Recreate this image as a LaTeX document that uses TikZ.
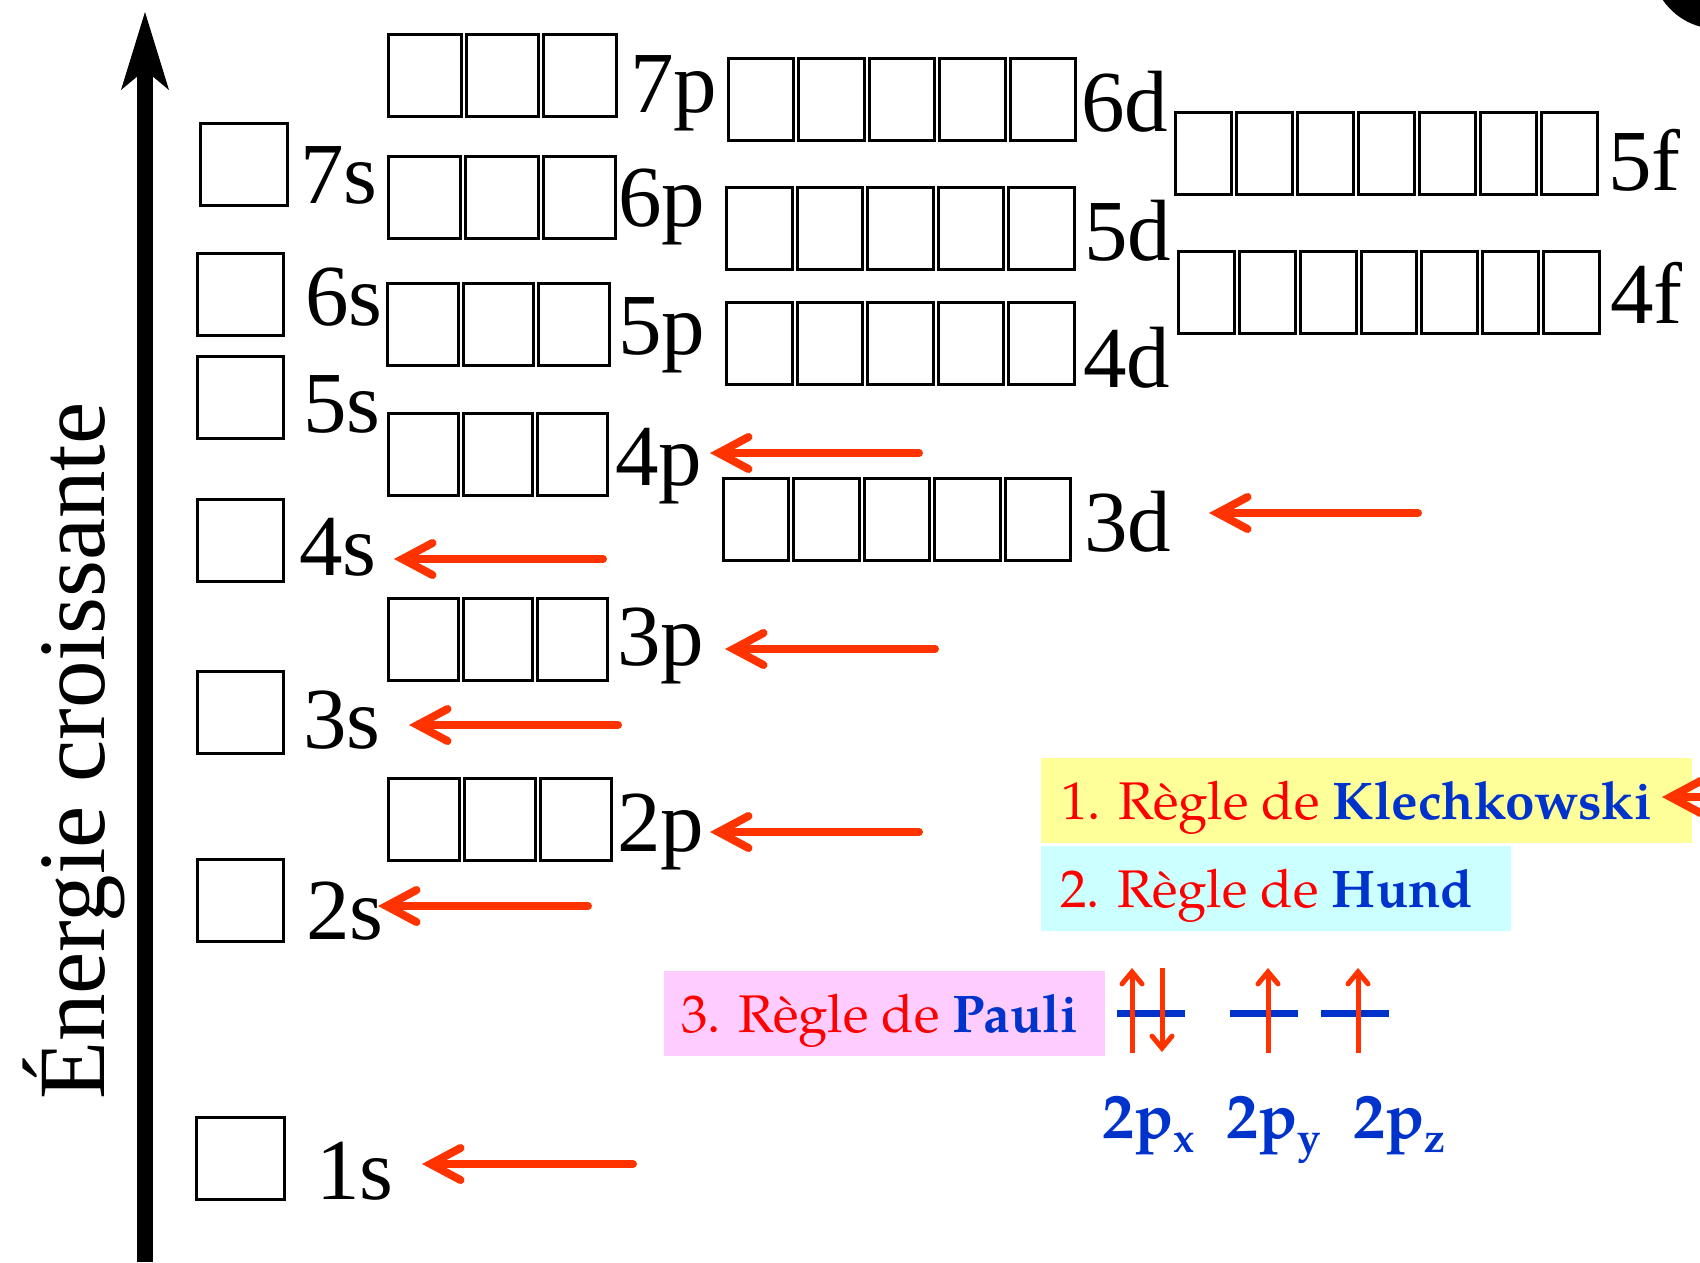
\documentclass[tikz,border=0pt]{standalone}
\usepackage{fontspec}
\setmainfont{Liberation Serif}
\newfontfamily\rulefont{TeX Gyre Pagella}
\usetikzlibrary{arrows.meta}

\definecolor{arrred}{HTML}{FF3300}
\definecolor{textred}{HTML}{FF0000}
\definecolor{textblue}{HTML}{0033CC}
\definecolor{yellowbg}{HTML}{FFFF99}
\definecolor{cyanbg}{HTML}{CCFFFF}
\definecolor{pinkbg}{HTML}{FFCCFF}

% one row of orbital boxes: name, left edge, top edge, number of boxes, total width
\newcommand\orbrow[5]{%
  \pgfmathsetmacro\obw{(#5-2*(#4-1))/#4}%
  \pgfmathsetmacro\obi{\obw-3}%
  \foreach \k in {1,...,#4}{%
    \pgfmathsetmacro\obx{#2+(\k-1)*(\obw+2)+\obw/2}%
    \node[orb, minimum width=\obi pt] (#1-\k) at (\obx,#3+42.5) {};
  }%
}
\newcommand\lowsub[1]{\raisebox{-14pt}{\fontsize{42}{44}\selectfont #1}}

\begin{document}
\begin{tikzpicture}[x=1pt,y=-1pt,
  orb/.style={draw=black, line width=3pt, minimum height=82pt, inner sep=0pt, shape=rectangle},
  lvl/.style={font=\fontsize{87}{92}\selectfont, anchor=base west, inner sep=0pt, text=black},
  fillarr/.style={draw=arrred, line width=8pt, line cap=round,
    -{Straight Barb[length=30pt,width=32pt,line cap=round,line join=miter]}},
  spin/.style={draw=arrred, line width=5pt,
    -{Straight Barb[length=12pt,width=20pt,line cap=round,line join=miter]}},
  bar/.style={fill=textblue, inner sep=0pt, minimum width=68pt, minimum height=7pt, shape=rectangle},
  rulebox/.style={inner sep=0pt, shape=rectangle, anchor=north west, minimum height=85pt},
  ruletext/.style={font=\rulefont\fontsize{53}{60}\selectfont, anchor=base west, inner sep=0pt, text=textred},
  sublabel/.style={font=\rulefont\bfseries\fontsize{64}{70}\selectfont, anchor=base west, inner sep=0pt, text=textblue}
]
\path[use as bounding box] (0,0) rectangle (1700,1262);

% corner mark
\begin{scope}
  \clip (0,0) rectangle (1700,1262);
  \fill[black] (1718,-38) circle[radius=67];
\end{scope}

% energy axis
\coordinate (ebot) at (145,1262);
\coordinate (etop) at (145,12);
\draw[line width=16pt, -{Stealth[length=78pt,width=48pt,inset=20pt,line width=0pt]}] (ebot) -- (etop);
\node[font=\fontsize{95}{100}\selectfont, rotate=90, anchor=base west, inner sep=0pt] (axis) at (104,1100) {Énergie croissante};

% orbital boxes
\orbrow{s7}{199}{122}{1}{90}
\orbrow{s6}{196}{252}{1}{89}
\orbrow{s5}{196}{355}{1}{89}
\orbrow{s4}{196}{498}{1}{89}
\orbrow{s3}{196}{670}{1}{89}
\orbrow{s2}{196}{858}{1}{89}
\orbrow{s1}{195}{1116}{1}{91}
\orbrow{p7}{387}{33}{3}{231}
\orbrow{p6}{387}{155}{3}{230}
\orbrow{p5}{386}{282}{3}{225}
\orbrow{p4}{387}{412}{3}{222}
\orbrow{p3}{387}{597}{3}{222}
\orbrow{p2}{387}{777}{3}{226}
\orbrow{d6}{727}{57}{5}{350}
\orbrow{d5}{725}{186}{5}{351}
\orbrow{d4}{725}{301}{5}{351}
\orbrow{d3}{722}{477}{5}{350}
\orbrow{f5}{1174}{111}{7}{425}
\orbrow{f4}{1177}{250}{7}{424}

% sub-shell labels
\node[lvl] (l7s) at (300,203) {7s};
\node[lvl] (l6s) at (305,325) {6s};
\node[lvl] (l5s) at (303,432) {5s};
\node[lvl] (l4s) at (299,575) {4s};
\node[lvl] (l3s) at (303,748) {3s};
\node[lvl] (l2s) at (306,939) {2s};
\node[lvl] (l1s) at (316,1199) {1s};
\node[lvl] (l7p) at (630,112) {7p};
\node[lvl] (l6p) at (618,226) {6p};
\node[lvl] (l5p) at (618,354) {5p};
\node[lvl] (l4p) at (615,485) {4p};
\node[lvl] (l3p) at (617,665) {3p};
\node[lvl] (l2p) at (617,851) {2p};
\node[lvl] (l6d) at (1081,131) {6d};
\node[lvl] (l5d) at (1084,260) {5d};
\node[lvl] (l4d) at (1083,387) {4d};
\node[lvl] (l3d) at (1084,551) {3d};
\node[lvl] (l5f) at (1608,190) {5f};
\node[lvl] (l4f) at (1610,323) {4f};

% filling-order arrows
\coordinate (t4p) at (919,453);  \coordinate (h4p) at (710,453);
\coordinate (t3d) at (1418,513); \coordinate (h3d) at (1209,513);
\coordinate (t4s) at (603,559);  \coordinate (h4s) at (394,559);
\coordinate (t3p) at (935,649);  \coordinate (h3p) at (725,649);
\coordinate (t3s) at (618,725);  \coordinate (h3s) at (409,725);
\coordinate (t2p) at (919,832);  \coordinate (h2p) at (710,832);
\coordinate (t2s) at (588,906);  \coordinate (h2s) at (378,906);
\coordinate (t1s) at (633,1164); \coordinate (h1s) at (422,1164);
\foreach \o in {4p,3d,4s,3p,3s,2p,2s,1s}{
  \draw[fillarr] (t\o) -- (h\o);
}

% rules
\node[rulebox, fill=yellowbg, minimum width=651pt] (kbox) at (1041,758) {};
\node[rulebox, fill=cyanbg, minimum width=470pt] (hbox) at (1041,846) {};
\node[rulebox, fill=pinkbg, minimum width=441pt] (pbox) at (664,971) {};
\node[ruletext] (ktext) at (1061,819) {1. Règle de \textcolor{textblue}{\bfseries Klechkowski}};
\node[ruletext] (htext) at (1060,907) {2. Règle de \textcolor{textblue}{\bfseries Hund}};
\node[ruletext] (ptext) at (681,1032) {3. Règle de \textcolor{textblue}{\bfseries Pauli}};
\coordinate (tkl) at (1725,797); \coordinate (hkl) at (1662,797);
\draw[fillarr] (tkl) -- (hkl);

% 2p levels with spins
\node[bar] (px) at (1151,1013) {};
\node[bar] (py) at (1264,1013) {};
\node[bar] (pz) at (1355,1013) {};
\coordinate (ux0) at (1132,1053); \coordinate (ux1) at (1132,968);
\coordinate (dx0) at (1162,968);  \coordinate (dx1) at (1162,1052);
\coordinate (uy0) at (1268,1053); \coordinate (uy1) at (1268,968);
\coordinate (uz0) at (1358,1053); \coordinate (uz1) at (1358,968);
\draw[spin] (ux0) -- (ux1);
\draw[spin] (dx0) -- (dx1);
\draw[spin] (uy0) -- (uy1);
\draw[spin] (uz0) -- (uz1);
\node[sublabel] (nx) at (1102,1138) {2p\lowsub{x}};
\node[sublabel] (ny) at (1226,1138) {2p\lowsub{y}};
\node[sublabel] (nz) at (1353,1138) {2p\lowsub{z}};
\end{tikzpicture}
\end{document}
